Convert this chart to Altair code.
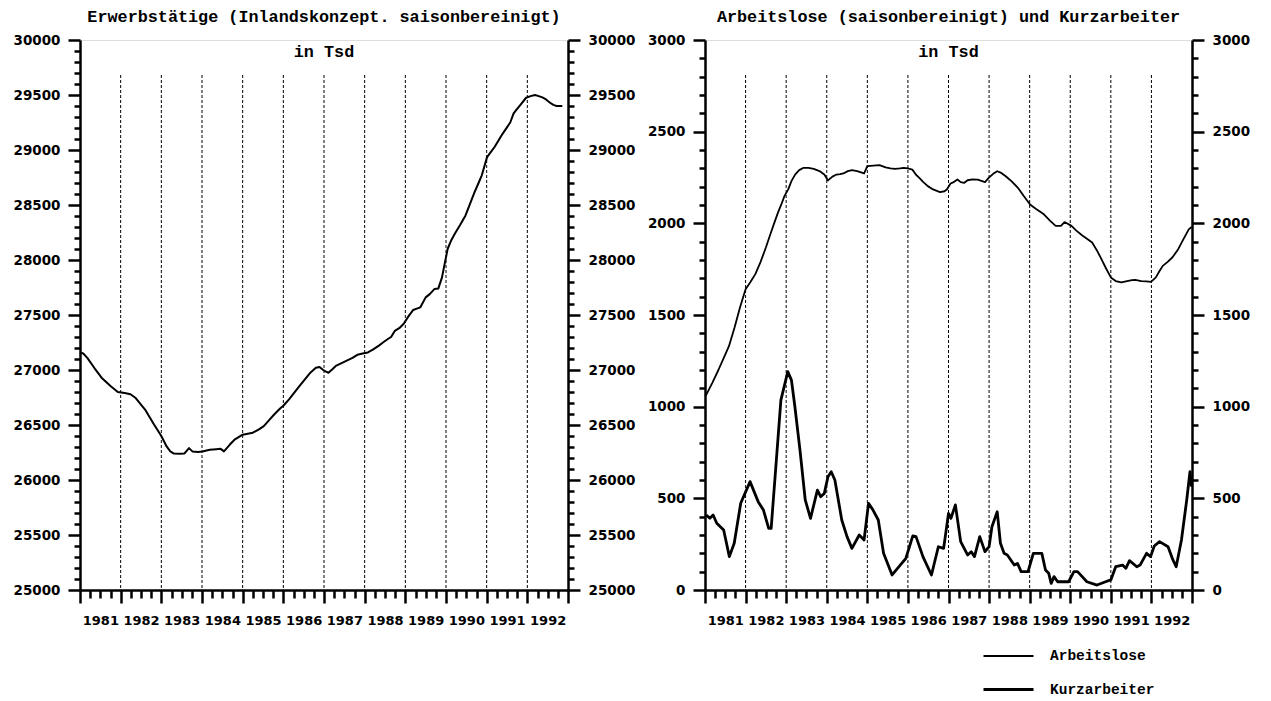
import altair as alt
import pandas as pd

# ---------------- data ----------------
erw_t = [1981.0, 1981.08, 1981.18, 1981.35, 1981.53, 1981.75, 1981.93, 1982.1, 1982.24, 1982.37,
         1982.6, 1982.82, 1983.0, 1983.13, 1983.22, 1983.31, 1983.45, 1983.57, 1983.68, 1983.77,
         1983.9, 1984.01, 1984.19, 1984.35, 1984.46, 1984.54, 1984.68, 1984.81, 1985.0, 1985.25,
         1985.4, 1985.52, 1985.65, 1985.78, 1985.92, 1986.0, 1986.14, 1986.27, 1986.4, 1986.54,
         1986.67, 1986.8, 1986.89, 1986.98, 1987.05, 1987.11, 1987.2, 1987.29, 1987.42, 1987.56,
         1987.7, 1987.82, 1987.95, 1988.08, 1988.2, 1988.35, 1988.45, 1988.57, 1988.65, 1988.74,
         1988.85, 1988.96, 1989.08, 1989.19, 1989.3, 1989.37, 1989.5, 1989.6, 1989.72, 1989.81,
         1989.9, 1990.04, 1990.13, 1990.22, 1990.35, 1990.48, 1990.6, 1990.7, 1990.8, 1990.88,
         1991.01, 1991.1, 1991.19, 1991.28, 1991.36, 1991.47, 1991.58, 1991.66, 1991.71, 1991.84,
         1991.97, 1992.08, 1992.19, 1992.28, 1992.37, 1992.46, 1992.55, 1992.64, 1992.72, 1992.86]
erw_v = [27160, 27150, 27110, 27020, 26930, 26855, 26800, 26790, 26780, 26745,
         26640, 26505, 26400, 26305, 26260, 26240, 26238, 26242, 26290, 26258,
         26255, 26260, 26275, 26280, 26283, 26260, 26320, 26370, 26412, 26430,
         26460, 26490, 26545, 26598, 26650, 26675, 26733, 26795, 26855, 26920,
         26978, 27020, 27028, 27000, 26985, 26975, 27005, 27037, 27060, 27085,
         27110, 27138, 27150, 27160, 27185, 27222, 27250, 27282, 27300, 27355,
         27380, 27420, 27490, 27545, 27560, 27570, 27660, 27690, 27737, 27740,
         27840, 28100, 28180, 28240, 28320, 28405, 28520, 28615, 28700, 28770,
         28935, 28980, 29025, 29080, 29130, 29190, 29250, 29330, 29355, 29415,
         29475, 29490, 29500, 29490, 29478, 29460, 29432, 29410, 29400, 29400]

alo_t = [1981.0, 1981.03, 1981.18, 1981.33, 1981.46, 1981.59, 1981.73, 1981.86, 1982.0, 1982.12,
         1982.24, 1982.37, 1982.5, 1982.61, 1982.71, 1982.8, 1982.88, 1982.96, 1983.05, 1983.13,
         1983.22, 1983.32, 1983.43, 1983.55, 1983.68, 1983.82, 1983.94, 1984.03, 1984.14, 1984.24,
         1984.33, 1984.41, 1984.52, 1984.62, 1984.75, 1984.92, 1985.0, 1985.15, 1985.3, 1985.45,
         1985.57, 1985.68, 1985.8, 1985.9, 1986.0, 1986.11, 1986.2, 1986.28, 1986.38, 1986.49,
         1986.62, 1986.79, 1986.9, 1986.96, 1987.05, 1987.13, 1987.22, 1987.3, 1987.39, 1987.47,
         1987.56, 1987.72, 1987.9, 1987.99, 1988.1, 1988.2, 1988.3, 1988.41, 1988.55, 1988.71,
         1988.85, 1989.01, 1989.15, 1989.25, 1989.35, 1989.5, 1989.64, 1989.77, 1989.86, 1990.03,
         1990.15, 1990.29, 1990.42, 1990.54, 1990.65, 1990.75, 1990.88, 1991.0, 1991.12, 1991.26,
         1991.4, 1991.52, 1991.6, 1991.75, 1991.88, 1991.99, 1992.11, 1992.2, 1992.28, 1992.4,
         1992.52, 1992.66, 1992.78, 1992.92, 1992.99]
alo_v = [1060, 1064, 1130, 1200, 1265, 1330, 1433, 1540, 1641, 1680,
         1723, 1790, 1868, 1940, 2004, 2060, 2103, 2150, 2185, 2230,
         2266, 2290, 2303, 2302, 2297, 2285, 2266, 2234, 2255, 2266,
         2268, 2272, 2285, 2290, 2285, 2272, 2312, 2315, 2317, 2305,
         2300, 2297, 2300, 2303, 2300, 2293, 2265, 2248, 2225, 2203,
         2185, 2170, 2175, 2185, 2217, 2225, 2239, 2225, 2221, 2235,
         2239, 2238, 2225, 2248, 2270, 2284, 2275, 2257, 2230, 2194,
         2150, 2103, 2080, 2065, 2049, 2015, 1986, 1986, 2007, 1986,
         1960, 1935, 1915, 1895, 1855, 1813, 1755, 1705, 1685, 1678,
         1685, 1690, 1692, 1685, 1683, 1681, 1705, 1740, 1768, 1790,
         1815, 1859, 1910, 1967, 1980]

kurz_t = [1981.03, 1981.12, 1981.2, 1981.29, 1981.46, 1981.6, 1981.72, 1981.88, 1982.11, 1982.31,
          1982.44, 1982.57, 1982.63, 1982.74, 1982.87, 1983.04, 1983.13, 1983.21, 1983.34, 1983.47,
          1983.6, 1983.77, 1983.85, 1983.94, 1984.03, 1984.11, 1984.2, 1984.37, 1984.5, 1984.62,
          1984.8, 1984.92, 1985.03, 1985.14, 1985.27, 1985.4, 1985.61, 1985.78, 1985.95, 1986.12,
          1986.2, 1986.37, 1986.58, 1986.75, 1986.88, 1987.0, 1987.06, 1987.17, 1987.3, 1987.47,
          1987.56, 1987.64, 1987.77, 1987.9, 1988.0, 1988.07, 1988.2, 1988.28, 1988.37, 1988.45,
          1988.62, 1988.7, 1988.79, 1988.96, 1989.09, 1989.3, 1989.39, 1989.47, 1989.53, 1989.6,
          1989.69, 1989.96, 1990.09, 1990.18, 1990.41, 1990.66, 1990.87, 1991.0, 1991.12, 1991.29,
          1991.37, 1991.46, 1991.64, 1991.72, 1991.88, 1991.98, 1992.07, 1992.2, 1992.41, 1992.53,
          1992.61, 1992.74, 1992.87, 1992.95, 1992.99]
kurz_v = [409, 391, 409, 364, 327, 182, 255, 473, 591, 482,
          436, 336, 336, 655, 1036, 1191, 1145, 1009, 764, 491,
          391, 545, 509, 527, 618, 645, 600, 382, 291, 227,
          300, 273, 473, 436, 382, 200, 82, 127, 173, 295,
          291, 182, 82, 236, 227, 418, 391, 464, 264, 191,
          209, 182, 291, 209, 236, 345, 427, 255, 200, 191,
          136, 145, 100, 100, 200, 200, 109, 91, 36, 73,
          45, 45, 100, 100, 45, 27, 45, 55, 127, 136,
          118, 160, 127, 136, 200, 182, 240, 264, 236, 164,
          127, 273, 491, 645, 564]

grid_years = list(range(1982, 1993))
x_quarters = [1981 + i * 0.25 for i in range(49)]
series_names = ["Arbeitslose", "Kurzarbeiter"]

title_left = "Erwerbstätige (Inlandskonzept. saisonbereinigt)"
title_right = "Arbeitslose (saisonbereinigt) und Kurzarbeiter"
unit_text = "in Tsd"

# ---------------- styling ----------------
NUM_FONT = "DejaVu Sans"
TXT_FONT = "Liberation Mono"
H = 550
WL = 488
WR = 487


def xenc(field):
    return alt.X(
        f"{field}:Q",
        scale=alt.Scale(domain=[1981, 1993], nice=False, zero=False),
        axis=alt.Axis(
            values=x_quarters,
            labelExpr="datum.value % 1 === 0.5 ? format(floor(datum.value), 'd') : ''",
            tickSize={"condition": {"test": "datum.value % 1 === 0", "value": 13}, "value": 8},
            labelOverlap=False, labelFlush=False, title=None, grid=False,
            domainWidth=2.5, tickWidth=2.5, domainColor="black", tickColor="black",
            labelColor="black", labelFont=NUM_FONT, labelFontSize=13,
            labelFontWeight="bold", labelPadding=16,
        ),
    )


def yax(orient, lo, hi):
    return alt.Axis(
        orient=orient,
        values=list(range(lo, hi + 1, 100)),
        labelExpr="datum.value % 500 === 0 ? format(datum.value, 'd') : ''",
        tickSize={"condition": {"test": "datum.value % 500 === 0", "value": 12}, "value": 6},
        labelOverlap=False, title=None, grid=False,
        domainWidth=2.5, tickWidth=2.5, domainColor="black", tickColor="black",
        labelColor="black", labelFont=NUM_FONT, labelFontSize=13.5,
        labelFontWeight="bold", labelPadding=8,
    )


def panel(lines_visible, lines_axis_right, width, title):
    rules = alt.Chart(pd.DataFrame({"year": grid_years})).mark_rule(
        color="black", strokeWidth=1, strokeDash=[3, 2]
    ).encode(x=xenc("year"), y=alt.value(35), y2=alt.value(H))
    txt = alt.Chart(pd.DataFrame({"a": [0]})).mark_text(
        font=TXT_FONT, fontSize=16.8, fontWeight="bold", color="black"
    ).encode(x=alt.value(width / 2), y=alt.value(12), text=alt.value(unit_text))
    return alt.layer(rules, lines_visible, lines_axis_right, txt).resolve_scale(
        y="independent"
    ).properties(
        width=width, height=H,
        title=alt.TitleParams(title, font=TXT_FONT, fontSize=16.8, fontWeight="bold",
                              color="black", anchor="middle", frame="group", offset=7),
    )


# left panel
df_l = pd.DataFrame({"t": erw_t, "v": erw_v})
ysc_l = alt.Scale(domain=[25000, 30000], nice=False, zero=False)
l_vis = alt.Chart(df_l).mark_line(color="black", strokeWidth=2, strokeJoin="round").encode(
    x=xenc("t"), y=alt.Y("v:Q", scale=ysc_l, axis=yax("left", 25000, 30000)))
l_inv = alt.Chart(df_l).mark_line(color="black", strokeOpacity=0).encode(
    x=xenc("t"), y=alt.Y("v:Q", scale=ysc_l, axis=yax("right", 25000, 30000)))
left = panel(l_vis, l_inv, WL, title_left)

# right panel
df_r = pd.concat([
    pd.DataFrame({"t": alo_t, "v": alo_v, "series": series_names[0]}),
    pd.DataFrame({"t": kurz_t, "v": kurz_v, "series": series_names[1]}),
])
ysc_r = alt.Scale(domain=[0, 3000], nice=False, zero=False)
r_vis = alt.Chart(df_r).mark_line(color="black", strokeJoin="round").encode(
    x=xenc("t"),
    y=alt.Y("v:Q", scale=ysc_r, axis=yax("left", 0, 3000)),
    detail="series:N",
    strokeWidth=alt.StrokeWidth(
        "series:N",
        scale=alt.Scale(domain=series_names, range=[1.8, 2.8]),
        legend=alt.Legend(
            orient="none", legendX=902, legendY=590, title=None,
            symbolType="stroke", symbolSize=2500, symbolStrokeColor="black",
            labelFont=TXT_FONT, labelFontSize=14.5, labelFontWeight="bold",
            labelColor="black", rowPadding=-16, labelOffset=15,
        ),
    ),
)
r_inv = alt.Chart(df_r).mark_line(color="black", strokeOpacity=0).encode(
    x=xenc("t"), y=alt.Y("v:Q", scale=ysc_r, axis=yax("right", 0, 3000)), detail="series:N")
right = panel(r_vis, r_inv, WR, title_right)

chart = alt.hconcat(left, right, spacing=10).properties(
    padding={"left": 4, "top": 0, "right": 0, "bottom": 0}
).configure_view(stroke=None).configure(background="white")

chart.save("out.html", embed_options={"renderer": "svg", "actions": False})
